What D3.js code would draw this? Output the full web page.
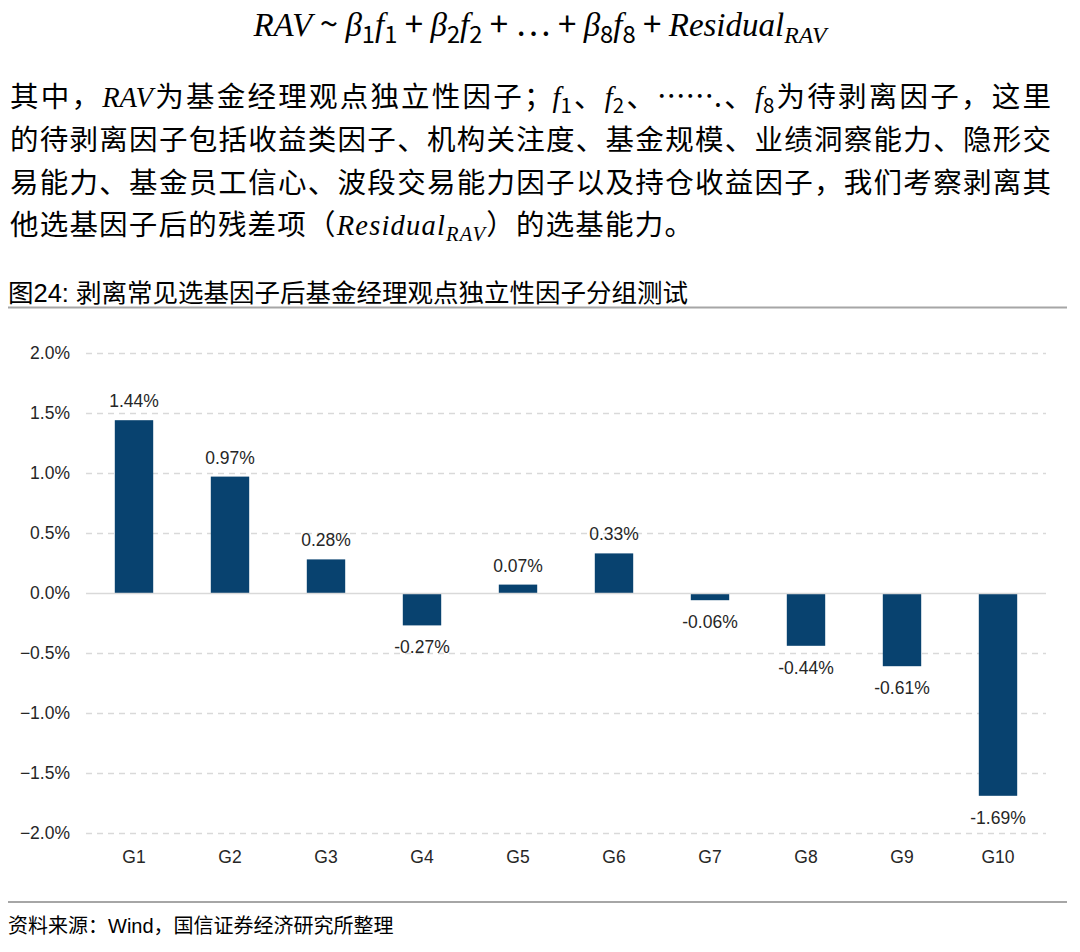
<!DOCTYPE html>
<html><head><meta charset="utf-8">
<script src="https://cdn.jsdelivr.net/npm/d3@7"></script>
<style>
body{margin:0;background:#fff;width:1080px;height:952px;overflow:hidden;position:relative;font-family:"Noto Sans CJK SC",sans-serif;}
.m{font-family:"Liberation Serif","DejaVu Serif",serif;font-style:italic;}
.s{font-size:0.72em;position:relative;top:0.3em;}
#formula{position:absolute;top:0px;left:0;width:1080px;text-align:center;font-size:33px;line-height:44px;padding-top:0;color:#000;white-space:nowrap;}
.pl{position:absolute;left:10px;width:1041px;font-size:28.5px;line-height:40px;color:#000;white-space:nowrap;}
.j{text-align:justify;text-align-last:justify;}
#title{position:absolute;left:8px;top:272px;font-size:25.5px;color:#000;font-family:"Liberation Sans","Noto Sans CJK SC",sans-serif;}
#source{position:absolute;left:8px;top:910px;font-size:20px;color:#000;font-family:"Liberation Sans","Noto Sans CJK SC",sans-serif;}
</style></head>
<body>
<div id="formula"><span class="m">RAV</span> ~ <span class="m">β</span><span class="s">1</span><span class="m">f</span><span class="s">1</span> + <span class="m">β</span><span class="s">2</span><span class="m">f</span><span class="s">2</span> + … + <span class="m">β</span><span class="s">8</span><span class="m">f</span><span class="s">8</span> + <span class="m">Residual</span><span class="s m">RAV</span></div>
<div class="pl j" style="top:75px">其中，<span class="m">RAV</span>为基金经理观点独立性因子；<span class="m">f</span><span class="s">1</span>、<span class="m">f</span><span class="s">2</span>、…….、<span class="m">f</span><span class="s">8</span>为待剥离因子，这里</div>
<div class="pl j" style="top:118px">的待剥离因子包括收益类因子、机构关注度、基金规模、业绩洞察能力、隐形交</div>
<div class="pl j" style="top:161px">易能力、基金员工信心、波段交易能力因子以及持仓收益因子，我们考察剥离其</div>
<div class="pl" style="top:203px;letter-spacing:1.2px">他选基因子后的残差项（<span class="m">Residual</span><span class="s m">RAV</span>）的选基能力。</div>
<div id="title">图24: 剥离常见选基因子后基金经理观点独立性因子分组测试</div>
<div id="source">资料来源：Wind，国信证券经济研究所整理</div>
<svg id="chart" width="1080" height="952" style="position:absolute;left:0;top:0;pointer-events:none"></svg>
<script>
const categories = ["G1","G2","G3","G4","G5","G6","G7","G8","G9","G10"];
const values = [1.44, 0.97, 0.28, -0.27, 0.07, 0.33, -0.06, -0.44, -0.61, -1.69];
const valueLabels = ["1.44%","0.97%","0.28%","-0.27%","0.07%","0.33%","-0.06%","-0.44%","-0.61%","-1.69%"];
const yTicks = [2.0, 1.5, 1.0, 0.5, 0.0, -0.5, -1.0, -1.5, -2.0];

const svg = d3.select("#chart");
svg.append("line").attr("x1",8).attr("x2",1067).attr("y1",307.5).attr("y2",307.5).attr("stroke","#a6a6a6").attr("stroke-width",2);
svg.append("line").attr("x1",8).attr("x2",1067).attr("y1",902).attr("y2",902).attr("stroke","#a6a6a6").attr("stroke-width",2);

const x = d3.scaleBand().domain(categories).range([86,1046]).paddingInner(0.6).paddingOuter(0.3);
const y = d3.scaleLinear().domain([-2,2]).range([833,353]);

const g = svg.append("g");
g.selectAll(".grid").data(yTicks.filter(d=>d!==0)).join("line")
  .attr("x1",86).attr("x2",1046).attr("y1",d=>y(d)+0.5).attr("y2",d=>y(d)+0.5)
  .attr("stroke","#d9d9d9").attr("stroke-width",1.3).attr("stroke-dasharray","6,5");

const yAxis = d3.axisLeft(y).tickValues(yTicks).tickFormat(d=>d3.format(".1f")(d)+"%").tickSize(0).tickPadding(0);
const ya = g.append("g").attr("transform","translate(70,0)").call(yAxis);
ya.select(".domain").remove();
ya.selectAll("text").attr("font-family","Liberation Sans, Arial, sans-serif").attr("font-size",17.5).attr("fill","#262626");

g.selectAll(".bar").data(values).join("rect")
  .attr("x",(d,i)=>x(categories[i])).attr("width",x.bandwidth())
  .attr("y",d=>y(Math.max(0,d))).attr("height",d=>Math.abs(y(d)-y(0)))
  .attr("fill","#08426f");

g.append("line").attr("x1",86).attr("x2",1046).attr("y1",y(0)+0.5).attr("y2",y(0)+0.5).attr("stroke","#d9d9d9").attr("stroke-width",1.5);

g.selectAll(".lbl").data(values).join("text")
  .attr("x",(d,i)=>x(categories[i])+x.bandwidth()/2)
  .attr("y",d=> d>=0 ? y(d)-13 : y(d)+28)
  .attr("text-anchor","middle").attr("font-family","Liberation Sans, Arial, sans-serif").attr("font-size",17.5).attr("fill","#262626")
  .text((d,i)=>valueLabels[i]);

const xAxis = d3.axisBottom(x).tickSize(0).tickPadding(0);
const xa = g.append("g").attr("transform","translate(0,851)").call(xAxis);
xa.select(".domain").remove();
xa.selectAll("text").attr("font-family","Liberation Sans, Arial, sans-serif").attr("font-size",17.5).attr("fill","#262626").attr("dy","0.71em");
</script>
</body></html>
